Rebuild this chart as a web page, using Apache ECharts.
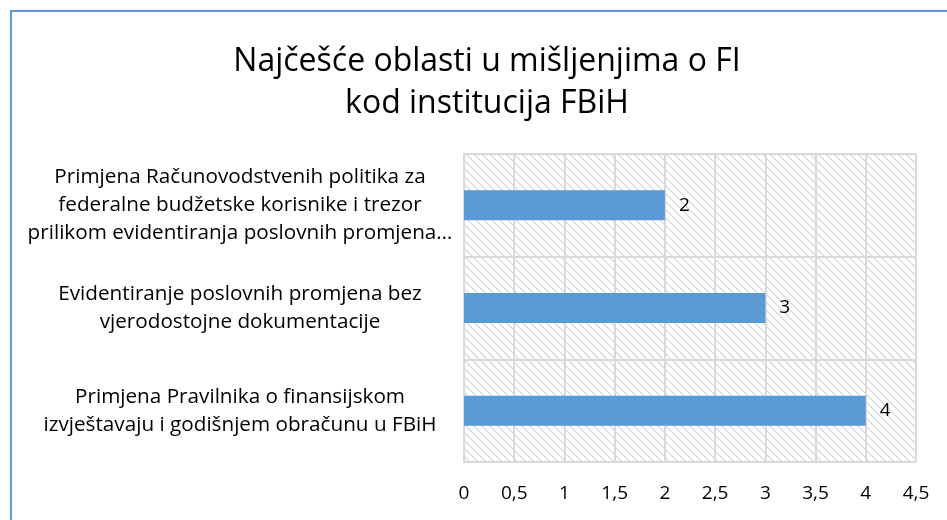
<!doctype html>
<html>
<head>
<meta charset="UTF-8">
<title>Najčešće oblasti</title>
<script src="https://cdn.jsdelivr.net/npm/echarts@6/dist/echarts.min.js"></script>
<style>
  html, body { margin: 0; padding: 0; background: #fff; }
  #main { width: 947px; height: 520px; }
</style>
</head>
<body>
<div id="main"></div>
<script>
// kategorije odozgo prema dolje
var categories = [
    'Primjena Računovodstvenih politika za\nfederalne budžetske korisnike i trezor\nprilikom evidentiranja poslovnih promjena…',
    'Evidentiranje poslovnih promjena bez\nvjerodostojne dokumentacije',
    'Primjena Pravilnika o finansijskom\nizvještavaju i godišnjem obračunu u FBiH'
];
var values = [2, 3, 4];
var axisMin = 0, axisMax = 4.5, axisStep = 0.5;

// šrafura pozadine
var hatch = document.createElement('canvas');
hatch.width = 8; hatch.height = 8;
var hc = hatch.getContext('2d');
hc.fillStyle = '#ffffff';
hc.fillRect(0, 0, 8, 8);
hc.strokeStyle = '#d4d4d4';
hc.lineWidth = 1.2;
hc.beginPath();
hc.moveTo(-1, -1); hc.lineTo(9, 9);
hc.moveTo(-1, 7); hc.lineTo(1, 9);
hc.moveTo(7, -1); hc.lineTo(9, 1);
hc.stroke();

var font = '"Open Sans", "Liberation Sans", sans-serif';
var myChart = echarts.init(document.getElementById('main'));
var option = {
    animation: false,
    textStyle: { fontFamily: font },
    title: {
        text: 'Najčešće oblasti u mišljenjima o FI\nkod institucija FBiH',
        left: 482, top: 36, textAlign: 'center',
        textStyle: { fontSize: 32, fontWeight: 'normal', color: '#000', lineHeight: 42, fontFamily: font }
    },
    graphic: [{
        type: 'rect', silent: true,
        shape: { x: 11, y: 11, width: 1000, height: 600 },
        style: { fill: 'none', stroke: '#5B9BD5', lineWidth: 2 }
    }],
    grid: {
        left: 464, right: 31, top: 154, bottom: 58,
        show: true, borderWidth: 0,
        backgroundColor: { image: hatch, repeat: 'repeat' }
    },
    xAxis: {
        type: 'value', min: axisMin, max: axisMax, interval: axisStep,
        axisLine: { show: false }, axisTick: { show: false },
        splitLine: { show: true, lineStyle: { color: '#d9d9d9', width: 2 } },
        axisLabel: {
            margin: 22, fontSize: 19, color: '#000', fontFamily: font,
            formatter: function (v) { return String(v).replace('.', ','); }
        }
    },
    yAxis: {
        type: 'category', data: categories, inverse: true,
        axisLine: { show: true, lineStyle: { color: '#d9d9d9', width: 2 } },
        axisTick: { show: false },
        splitLine: { show: true, lineStyle: { color: '#d9d9d9', width: 2 } },
        axisLabel: {
            align: 'center', margin: 224, fontSize: 20.7, lineHeight: 28,
            color: '#000', fontFamily: font
        }
    },
    series: [{
        type: 'bar', data: values, barWidth: 30,
        itemStyle: { color: '#5B9BD5' },
        label: { show: true, position: 'right', distance: 14, fontSize: 19, color: '#000', fontFamily: font }
    }]
};
myChart.setOption(option);
</script>
</body>
</html>
